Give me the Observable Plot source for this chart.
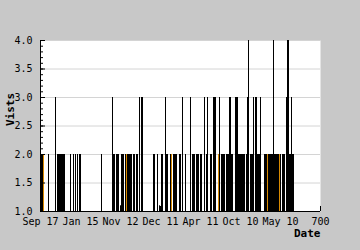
<!DOCTYPE html>
<html>
<head>
<meta charset="utf-8">
<script src="https://cdn.jsdelivr.net/npm/d3@7"></script>
<script src="https://cdn.jsdelivr.net/npm/@observablehq/plot@0.6"></script>
<style>
  html, body { margin: 0; padding: 0; background: #c8c8c8; }
  #chart { width: 360px; height: 250px; overflow: hidden; }
</style>
</head>
<body>
<div id="chart"></div>
<script>
// Runs of consecutive daily bars (day index from the first date) and their visit counts
const runStart  = [2.5, 20, 37.5, 42.5, 75, 82.5, 87.5, 92.5, 97.5, 152.5, 180, 182.5, 190, 200, 202.5, 212.5, 232.5, 240, 247.5, 252.5, 282.5, 292.5, 297.5, 302.5, 312.5, 315, 325, 332.5, 347.5, 355, 362.5, 375, 380, 390, 400, 410, 415, 417.5, 425, 432.5, 445, 447.5, 452.5, 465, 472.5, 477.5, 487.5, 495, 515, 517.5, 520, 525, 532.5, 537.5, 542.5, 550, 560, 582.5, 585, 605, 615, 617.5, 622.5, 627.5, 630];
const runEnd    = [7.5, 22.5, 40, 62.5, 77.5, 85, 90, 95, 102.5, 155, 182.5, 187.5, 197.5, 202.5, 210, 230, 237.5, 245, 250, 257.5, 287.5, 295, 300, 307.5, 315, 320, 330, 342.5, 352.5, 357.5, 365, 377.5, 387.5, 397.5, 405, 412.5, 417.5, 420, 430, 440, 447.5, 450, 462.5, 472.5, 477.5, 482.5, 495, 512.5, 517.5, 520, 522.5, 532.5, 535, 542.5, 550, 552.5, 582.5, 585, 602.5, 612.5, 617.5, 622.5, 627.5, 630, 635];
const runVisits = [2, 2, 3, 2, 2, 2, 2, 2, 2, 2, 3, 2, 2, 1.1, 2, 2, 2, 2, 3, 3, 2, 2, 1.1, 2, 3, 2, 2, 2, 2, 3, 2, 3, 2, 2, 2, 3, 2, 3, 2, 3, 2, 3, 2, 2, 3, 2, 3, 2, 2, 3, 4, 2, 3, 3, 2, 3, 2, 4, 2, 2, 3, 4, 2, 3, 2];

// Bars whose orange fill shows through
const orangeStart  = [7.5, 215, 327.5, 445, 567.5, 597.5];
const orangeEnd    = [10, 217.5, 330, 447.5, 570, 600];
const orangeVisits = [2, 2, 2, 2, 2, 2];

// Axis ticks and labels
const xTicks  = [0, 100, 200, 300, 400, 500, 600, 700];
const xLabels = ["Sep 17", "Jan 15", "Nov 12", "Dec 11", "Apr 11", "Oct 10", "May 10", "700"];
const yMajor  = [1, 1.5, 2, 2.5, 3, 3.5, 4];
const yMinor  = [1, 1.1, 1.2, 1.3, 1.4, 1.5, 1.6, 1.7, 1.8, 1.9, 2, 2.1, 2.2, 2.3, 2.4, 2.5, 2.6, 2.7, 2.8, 2.9, 3, 3.1, 3.2, 3.3, 3.4, 3.5, 3.6, 3.7, 3.8, 3.9, 4];
const yGrid   = [1.5, 2, 2.5, 3, 3.5, 4];

const runs = runStart.map((s, i) => ({s, e: runEnd[i], v: runVisits[i]}));
const oranges = orangeStart.map((s, i) => ({s, e: orangeEnd[i], v: orangeVisits[i]}));

const chart = Plot.plot({
  width: 360,
  height: 250,
  marginLeft: 40,
  marginRight: 40,
  marginTop: 40,
  marginBottom: 39,
  style: {background: "transparent", fontFamily: "'DejaVu Sans Mono', monospace", fontSize: "10px", color: "black"},
  x: {domain: [0, 700], label: null},
  y: {domain: [1, 4], label: null},
  marks: [
    Plot.frame({fill: "white", stroke: null}),
    Plot.gridY(yGrid, {stroke: "#d4d4d4", strokeOpacity: 1}),
    Plot.rect(runs, {x1: d => d.s, x2: d => d.e, y1: 1, y2: d => d.v, fill: "black"}),
    Plot.rect(oranges, {x1: d => d.s, x2: d => d.e, y1: 1, y2: d => d.v, fill: "#d98a00"}),
    // inward tick marks (minor 3px, major 5px)
    Plot.ruleY(yMinor, {y: d => d, x1: 0, x2: 7.5, stroke: "black"}),
    Plot.ruleY(yMajor, {y: d => d, x1: 0, x2: 12.5, stroke: "black"}),
    Plot.ruleX(xTicks, {x: d => d, y1: 1, y2: 1.088, stroke: "black"}),
    Plot.ruleX([0], {stroke: "black"}),
    Plot.ruleY([1], {stroke: "black"}),
    Plot.axisY(yMajor, {tickSize: 0, tickPadding: 8, tickFormat: d3.format(".1f")}),
    Plot.axisX(xTicks, {tickSize: 0, tickPadding: 6, tickFormat: (d, i) => xLabels[i]}),
    Plot.text(["Date"], {frameAnchor: "bottom-right", dy: 25, textAnchor: "end", fontWeight: "bold", fontSize: 11}),
    Plot.text(["Vists"], {frameAnchor: "left", dx: -30, rotate: -90, fontWeight: "bold", fontSize: 11})
  ]
});
document.getElementById("chart").appendChild(chart);
</script>
</body>
</html>
